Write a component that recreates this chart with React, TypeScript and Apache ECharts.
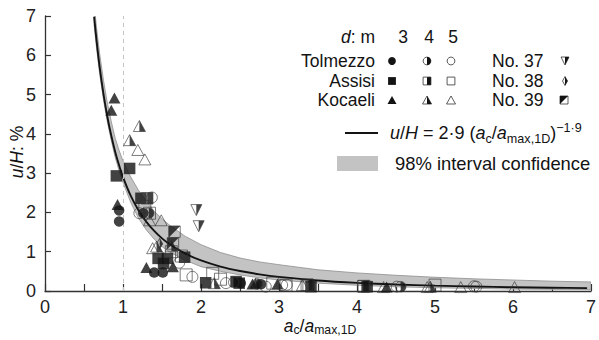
import React, { useEffect, useRef } from 'react';
import * as echarts from 'echarts';

const FONT = '"Liberation Sans", Arial, Helvetica, sans-serif';
const INK = '#131313';

// fitted curve u/H = 2.9 (ac/amax,1D)^-1.9
const curveX = [0.63, 0.66, 0.7, 0.75, 0.8, 0.85, 0.9, 0.95, 1, 1.1, 1.2, 1.3, 1.4, 1.5, 1.6, 1.8, 2, 2.25, 2.5, 2.75, 3, 3.5, 4, 4.5, 5, 5.5, 6, 6.5, 6.95];
const curveY = [6.98, 6.39, 5.71, 5.01, 4.43, 3.95, 3.54, 3.2, 2.9, 2.42, 2.05, 1.76, 1.53, 1.34, 1.19, 0.95, 0.777, 0.621, 0.508, 0.424, 0.36, 0.268, 0.208, 0.166, 0.136, 0.114, 0.096, 0.083, 0.073];

// 98% confidence band
const bandX = [0.63, 0.66, 0.7, 0.75, 0.8, 0.85, 0.9, 0.95, 1.0, 1.1, 1.2, 1.3, 1.4, 1.5, 1.6, 1.8, 2.0, 2.25, 2.5, 2.75, 3.0, 3.5, 4, 4.5, 5, 5.5, 6, 6.5, 7];
const bandUpper = [7.33, 6.71, 6.05, 5.36, 4.78, 4.31, 3.89, 3.58, 3.31, 2.9, 2.56, 2.29, 2.03, 1.84, 1.67, 1.39, 1.18, 0.98, 0.84, 0.74, 0.67, 0.54, 0.46, 0.4, 0.35, 0.31, 0.28, 0.25, 0.23];
const bandLower = [6.77, 6.2, 5.54, 4.86, 4.3, 3.83, 3.4, 3.06, 2.76, 2.25, 1.85, 1.55, 1.32, 1.13, 0.99, 0.78, 0.62, 0.5, 0.41, 0.335, 0.28, 0.2, 0.146, 0.108, 0.082, 0.065, 0.048, 0.042, 0.036];

// observations [ac/amax,1D, u/H %]
const tolmezzo3 = [[0.95, 2.05], [0.95, 1.77], [1.26, 1.98], [1.4, 0.47], [1.51, 0.47], [2.51, 0.2], [2.77, 0.17]];
const tolmezzo4 = [[1.33, 1.98], [2.42, 0.22], [2.72, 0.18], [4.56, 0.11]];
const tolmezzo5 = [[1.37, 2.38], [1.21, 1.98], [1.72, 0.72], [1.89, 0.36], [2.32, 0.2], [2.83, 0.11], [3.04, 0.15], [3.1, 0.16], [4.51, 0.11], [5.5, 0.12], [5.53, 0.11]];
const assisi3 = [[0.915, 2.93], [1.085, 3.12], [1.23, 2.36], [1.45, 0.83], [1.57, 0.83], [1.52, 0.7], [1.79, 0.86], [2.06, 0.21], [2.45, 0.24], [2.49, 0.2], [3.41, 0.11], [4.13, 0.11]];
const assisi4 = [[1.31, 2.36], [3.38, 0.14], [4.08, 0.12]];
const assisi5 = [[1.28, 2.15], [1.34, 1.98], [1.62, 1.0], [1.75, 0.89], [1.81, 0.41], [2.15, 0.45], [2.25, 0.3], [2.92, 0.2], [3.09, 0.15], [3.36, 0.16], [4.09, 0.12], [5.0, 0.15]];
const kocaeli3 = [[0.89, 4.91], [0.85, 4.6], [0.93, 2.2], [1.3, 0.6], [1.64, 0.62], [2.66, 0.18], [2.7, 0.2], [2.98, 0.18], [4.38, 0.1]];
const kocaeli4 = [[1.21, 4.2], [1.085, 3.84], [1.43, 1.13], [1.62, 1.15], [2.17, 0.2], [4.94, 0.11]];
const kocaeli5 = [[1.19, 3.59], [1.28, 3.35], [1.34, 1.8], [1.49, 1.8], [1.38, 1.09], [3.3, 0.15], [4.34, 0.1], [4.9, 0.1], [5.33, 0.1], [6.02, 0.1]];
const no37 = [[1.94, 2.06], [1.97, 1.65]];
const no38 = [[1.47, 1.2]];
const no39 = [[1.66, 1.51], [1.64, 1.21]];

const xTickLabels = ['0', '1', '2', '3', '4', '5', '6', '7'];
const yTickLabels = ['0', '1', '2', '3', '4', '5', '6', '7'];

const PAD = 'M0 0L0 0M10 10L10 10';
const P_HALF_CIRCLE = `path://${PAD}M5 0A5 5 0 0 1 5 10Z`;
const P_HALF_SQUARE = `path://${PAD}M5 0L10 0L10 10L5 10Z`;
const P_HALF_TRI = `path://${PAD}M5 0L10 10L5 10Z`;
const P_DOWN_TRI = 'path://M0 0L10 0L5 10Z';
const P_HALF_DOWN_TRI = `path://${PAD}M5 0L10 0L5 10Z`;
const P_HALF_DIAMOND = `path://${PAD}M5 0L10 5L5 10Z`;
const P_CORNER = 'path://M0 0L10 0L0 10Z';

const filled = (data: number[][], symbol: string, size: any, z = 5) => ({
  type: 'scatter', data, symbol, symbolSize: size, z,
  itemStyle: { color: INK, borderWidth: 0 },
});
const open = (data: number[][], symbol: string, size: any, z = 6) => ({
  type: 'scatter', data, symbol, symbolSize: size, z,
  itemStyle: { color: 'rgba(255,255,255,0)', borderColor: '#333', borderWidth: 0.8 },
});

// legend helpers (graphic)
const oStyle = { fill: 'none', stroke: '#333', lineWidth: 0.8 };
const fStyle = { fill: INK };
const gCircle = (cx: number, cy: number, r: number, s: any) => ({ type: 'circle', shape: { cx, cy, r }, style: s });
const gRect = (x: number, y: number, w: number, h: number, s: any) => ({ type: 'rect', shape: { x, y, width: w, height: h }, style: s });
const gPoly = (pts: number[][], s: any) => ({ type: 'polygon', shape: { points: pts }, style: s });
const gText = (x: number, y: number, text: string, align: string, fontSize = 17.5, rich?: any) => ({
  type: 'text', x, y,
  style: { text, fill: INK, fontSize, fontFamily: FONT, align, verticalAlign: 'middle', rich },
});

export default function App() {
  const ref = useRef<HTMLDivElement>(null);
  useEffect(() => {
    document.body.style.margin = '0';
    const chart = echarts.init(ref.current!, null, { renderer: 'svg' });
    const pairs = (xs: number[], ys: number[]) => xs.map((x, i) => [x, ys[i]]);

    const rich = (fs: number, lh = 24) => ({
      n: { fontSize: fs, fontFamily: FONT, fill: INK, lineHeight: lh },
      i: { fontSize: fs, fontFamily: FONT, fill: INK, fontStyle: 'italic', lineHeight: lh },
      sub: { fontSize: fs * 0.7, fontFamily: FONT, fill: INK, lineHeight: 11, verticalAlign: 'bottom' },
      sup: { fontSize: fs * 0.7, fontFamily: FONT, fill: INK, lineHeight: 11, verticalAlign: 'top' },
    });

    // legend layout
    const c1 = 392, c2 = 427, c3 = 451;
    const r0 = 37, r1 = 61, r2 = 81, r3 = 100;
    const tri = (cx: number, cy: number, w: number, h: number) => [[cx, cy - h / 2], [cx + w / 2, cy + h / 2], [cx - w / 2, cy + h / 2]];
    const triHalf = (cx: number, cy: number, w: number, h: number) => [[cx, cy - h / 2], [cx + w / 2, cy + h / 2], [cx, cy + h / 2]];

    const legend: any[] = [
      gText(375, r0, '{i|d}{n|: m}', 'right', 17.5, rich(17.5, 20)),
      gText(403, r0, '3', 'center'),
      gText(429, r0, '4', 'center'),
      gText(453, r0, '5', 'center'),
      gText(375, r1, 'Tolmezzo', 'right'),
      gText(375, r2, 'Assisi', 'right'),
      gText(375, r3, 'Kocaeli', 'right'),
      // Tolmezzo
      gCircle(c1, r1, 3.9, fStyle),
      gCircle(c2, r1, 3.9, oStyle),
      { type: 'sector', shape: { cx: c2, cy: r1, r: 3.9, r0: 0, startAngle: -Math.PI / 2, endAngle: Math.PI / 2, clockwise: true }, style: fStyle },
      gCircle(c3, r1, 3.9, oStyle),
      // Assisi
      gRect(c1 - 3.9, r2 - 3.9, 7.8, 7.8, fStyle),
      gRect(c2 - 3.9, r2 - 3.9, 7.8, 7.8, oStyle),
      gRect(c2, r2 - 3.9, 3.9, 7.8, fStyle),
      gRect(c3 - 3.9, r2 - 3.9, 7.8, 7.8, oStyle),
      // Kocaeli
      gPoly(tri(c1, r3, 9, 8), fStyle),
      gPoly(tri(c2, r3, 9, 8), oStyle),
      gPoly(triHalf(c2, r3, 9, 8), fStyle),
      gPoly(tri(c3, r3, 9, 8), oStyle),
      // test nos.
      gText(492, r1, 'No. 37', 'left'),
      gText(492, r2, 'No. 38', 'left'),
      gText(492, r3, 'No. 39', 'left'),
      gPoly([[561, r1 - 4], [569, r1 - 4], [565, r1 + 4]], oStyle),
      gPoly([[565, r1 - 4], [569, r1 - 4], [565, r1 + 4]], fStyle),
      gPoly([[565, r2 - 4.5], [567.5, r2], [565, r2 + 4.5], [562.5, r2]], oStyle),
      gPoly([[565, r2 - 4.5], [567.5, r2], [565, r2 + 4.5]], fStyle),
      gRect(560, r3 - 4, 8, 8, oStyle),
      gPoly([[560, r3 - 4], [568, r3 - 4], [560, r3 + 4]], fStyle),
      // fit line + band
      { type: 'line', shape: { x1: 345, y1: 133, x2: 378, y2: 133 }, style: { stroke: INK, lineWidth: 1.8 } },
      gText(390, 133, '{i|u}{n|/}{i|H}{n| = 2·9 (}{i|a}{sub|c}{n|/}{i|a}{sub|max,1D}{n|)}{sup|−1·9}', 'left', 18, rich(18)),
      gRect(337, 156, 41, 15, { fill: '#c3c3c3' }),
      gText(395, 163, '98% interval confidence', 'left', 18.4),
      // axis titles
      gText(320, 326, '{i|a}{sub|c}{n|/}{i|a}{sub|max,1D}', 'center', 17.5, rich(17.5, 20)),
      { ...gText(0, 0, '{i|u}{n|/}{i|H}{n|: %}', 'center', 17.5, rich(17.5, 20)), x: 17, y: 152, rotation: Math.PI / 2 },
    ];

    const axisCommon = {
      axisLine: { show: true, lineStyle: { color: '#333', width: 1.3 } },
      axisTick: { show: true, inside: true, lineStyle: { color: '#333', width: 1.2 } },
      splitLine: { show: false },
    };

    const bandData = bandX.map((x, i) => [x, bandLower[i], bandUpper[i]]);

    const option: any = {
      animation: false,
      backgroundColor: '#fff',
      grid: { left: 45, right: 6, top: 16, bottom: 49, containLabel: false },
      xAxis: {
        type: 'value', min: 0, max: 7, interval: 0.5,
        ...axisCommon,
        axisTick: { ...axisCommon.axisTick, length: 7 },
        axisLabel: {
          fontSize: 18, fontFamily: FONT, color: '#222', margin: 7,
          formatter: (v: number) => (Number.isInteger(v) ? xTickLabels[v] : ''),
        },
      },
      yAxis: {
        type: 'value', min: 0, max: 7, interval: 1,
        ...axisCommon,
        axisTick: { ...axisCommon.axisTick, length: 6 },
        axisLabel: {
          fontSize: 18, fontFamily: FONT, color: '#222', margin: 9,
          formatter: (v: number) => yTickLabels[v],
        },
      },
      graphic: legend,
      series: [
        {
          type: 'custom', z: 1, silent: true, clip: true,
          data: bandData,
          encode: { x: 0, y: [1, 2] },
          renderItem: (params: any, api: any) => {
            if (params.dataIndex !== 0) return null;
            const up = bandData.map((d) => api.coord([d[0], d[2]]));
            const lo = bandData.map((d) => api.coord([d[0], d[1]])).reverse();
            return {
              type: 'polygon',
              shape: { points: up.concat(lo) },
              style: { fill: '#c3c3c3', stroke: '#8e8e8e', lineWidth: 0.8 },
            };
          },
          markLine: {
            silent: true, symbol: 'none', label: { show: false },
            lineStyle: { type: [4, 4], color: '#c4c4c4', width: 1 },
            data: [{ xAxis: 1 }],
          },
        },
        {
          type: 'line', data: pairs(curveX, curveY), smooth: 0.3, symbol: 'none',
          lineStyle: { color: INK, width: 1.9 }, z: 3, silent: true,
        },
        filled(tolmezzo3, 'circle', 10.5),
        open(tolmezzo4, 'circle', 10.5),
        filled(tolmezzo4, P_HALF_CIRCLE, 10.5),
        open(tolmezzo5, 'circle', 11),
        filled(assisi3, 'rect', 11.5),
        open(assisi4, 'rect', 11.5),
        filled(assisi4, P_HALF_SQUARE, 11.5),
        open(assisi5, 'rect', 12),
        filled(kocaeli3, 'triangle', [12, 11]),
        open(kocaeli4, 'triangle', [12, 11]),
        filled(kocaeli4, P_HALF_TRI, [12, 11]),
        open(kocaeli5, 'triangle', [12, 11]),
        open(no37, P_DOWN_TRI, [11, 11]),
        filled(no37, P_HALF_DOWN_TRI, [11, 11]),
        open(no38, 'diamond', [6, 11]),
        filled(no38, P_HALF_DIAMOND, [6, 11]),
        open(no39, 'rect', 11.5),
        filled(no39, P_CORNER, 11.5),
      ],
    };
    chart.setOption(option);
    return () => chart.dispose();
  }, []);
  return <div ref={ref} style={{ width: 599, height: 340 }} />;
}
